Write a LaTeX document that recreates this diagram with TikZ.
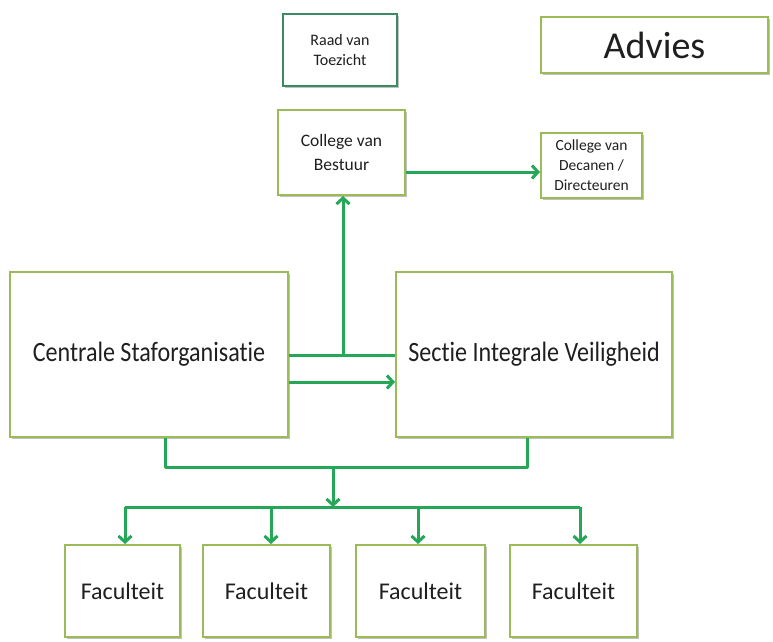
\documentclass[tikz,border=0pt]{standalone}
\usepackage{fontspec}
\setmainfont{Carlito}[Ligatures=NoCommon]
\newfontfamily\narrowfont{Carlito}[Ligatures=NoCommon,FakeStretch=0.86]
\usetikzlibrary{arrows.meta,shadows}
\definecolor{boxgreen}{RGB}{155,187,89}
\definecolor{darkbox}{RGB}{58,140,96}
\definecolor{linkgreen}{RGB}{36,168,88}
\begin{document}
\begin{tikzpicture}[x=1pt,y=-1pt,
  orgbox/.style={draw=boxgreen,line width=2pt,fill=white,
    drop shadow={shadow xshift=2pt,shadow yshift=-2pt,opacity=0.35,fill=black!70},
    align=center,inner sep=2pt,text=black!88},
  link/.style={draw=linkgreen,line width=3pt,line join=round},
  arr/.style={link,-{Straight Barb[length=6pt,width=13pt]}}]
\useasboundingbox (0,0) rectangle (773,641);

% boxes
\node[orgbox,draw=darkbox,minimum width=114pt,minimum height=72pt,font=\fontsize{16}{20}\selectfont]
  (raad) at (340,50) {Raad van\\Toezicht};
\node[orgbox,minimum width=227pt,minimum height=56pt,font=\fontsize{38}{42}\selectfont]
  (advies) at (654.5,45) {Advies};
\node[orgbox,minimum width=127pt,minimum height=85pt,font=\fontsize{17.5}{24}\selectfont]
  (cvb) at (341.5,152.5) {College van\\Bestuur};
\node[orgbox,minimum width=101pt,minimum height=65pt,font=\fontsize{15.5}{20}\selectfont]
  (cvd) at (591.5,165.5) {College van\\Decanen /\\Directeuren};
\node[orgbox,minimum width=278pt,minimum height=165pt,font=\narrowfont\fontsize{28}{30}\selectfont]
  (cso) at (149,354.5) {Centrale Staforganisatie};
\node[orgbox,minimum width=276pt,minimum height=165pt,font=\narrowfont\fontsize{28}{30}\selectfont]
  (siv) at (534,354.5) {Sectie Integrale Veiligheid};
\foreach \n/\cx/\w in {1/122.5/115,2/266.5/127,3/420.5/129,4/573.5/127}
  \node[orgbox,minimum width=\w pt,minimum height=92pt,font=\fontsize{24}{28}\selectfont]
    (fac\n) at (\cx,591) {Faculteit};

% junction points
\coordinate (j) at (343,355);
\coordinate (r2) at (0,382);
\coordinate (r1) at (0,172);
\coordinate (cl) at (165,467);
\coordinate (cr) at (527,467);
\coordinate (m) at (333,467);
\coordinate (bus) at (333,507);
\coordinate (b1) at (125,507);
\coordinate (b2) at (271,507);
\coordinate (b3) at (418,507);
\coordinate (b4) at (580,507);

% connectors
\draw[arr] (cvb.east |- r1) -- (cvd.west |- r1);
\draw[link] (cso.east |- j) -- (siv.west |- j);
\draw[arr] (j) -- (cvb.south -| j);
\draw[arr] (cso.east |- r2) -- (siv.west |- r2);
\draw[link] (cso.south -| cl) -- (cl) -- (cr) -- (siv.south -| cr);
\draw[arr] (m) -- (bus);
\draw[link] (b1) -- (b4);
\foreach \n in {1,2,3,4}
  \draw[arr] (b\n) -- (fac\n.north -| b\n);
\end{tikzpicture}
\end{document}
